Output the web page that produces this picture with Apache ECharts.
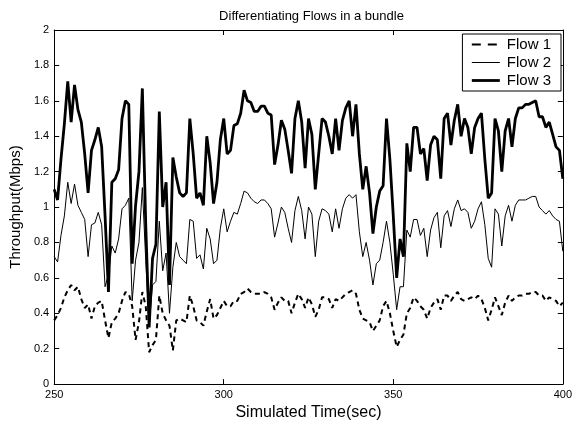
<!DOCTYPE html>
<html><head><meta charset="utf-8">
<script src="https://cdn.jsdelivr.net/npm/echarts/dist/echarts.min.js"></script>
<style>html,body{margin:0;padding:0;background:#fff}#c{width:575px;height:426px}</style>
</head><body><div id="c"></div>
<script>
// time starts at 250 s, one sample per second
const startTime = 250;
const flow1 = [0.36,0.39,0.43,0.49,0.53,0.56,0.53,0.55,0.48,0.43,0.45,0.37,0.44,0.46,0.47,0.36,0.26,0.35,0.37,0.40,
0.47,0.52,0.51,0.44,0.25,0.35,0.52,0.44,0.18,0.22,0.25,0.50,0.40,0.36,0.33,0.19,0.36,0.37,0.36,0.35,
0.50,0.44,0.36,0.35,0.33,0.41,0.48,0.37,0.39,0.43,0.47,0.44,0.44,0.47,0.47,0.51,0.52,0.54,0.52,0.51,
0.51,0.51,0.52,0.51,0.49,0.42,0.46,0.49,0.47,0.47,0.40,0.46,0.51,0.48,0.43,0.49,0.45,0.38,0.42,0.49,
0.49,0.48,0.43,0.48,0.47,0.49,0.51,0.52,0.53,0.51,0.42,0.37,0.36,0.35,0.30,0.33,0.36,0.44,0.47,0.40,
0.30,0.21,0.25,0.28,0.40,0.43,0.49,0.47,0.44,0.42,0.37,0.43,0.46,0.48,0.42,0.50,0.50,0.47,0.50,0.52,
0.48,0.47,0.48,0.49,0.48,0.50,0.48,0.43,0.36,0.42,0.49,0.44,0.39,0.46,0.50,0.47,0.49,0.50,0.50,0.51,
0.51,0.52,0.52,0.50,0.50,0.47,0.49,0.48,0.47,0.44,0.46];
const flow2 = [0.72,0.69,0.84,0.95,1.14,1.02,1.13,1.01,0.97,0.93,0.72,0.90,0.91,0.97,0.90,0.55,0.62,0.78,0.74,0.82,
0.99,1.01,1.05,0.47,0.70,0.80,1.11,0.70,0.33,0.56,0.58,0.92,0.64,0.74,0.40,0.66,0.80,0.72,0.70,0.68,
0.93,0.92,0.71,0.73,0.65,0.88,0.82,0.68,0.70,0.88,0.99,0.86,0.92,0.97,0.96,1.02,1.09,1.08,1.05,1.03,
1.02,1.04,1.04,1.02,0.99,0.83,0.91,1.00,0.97,0.88,0.80,0.98,1.06,0.98,0.82,1.00,0.96,0.72,0.92,0.99,
0.98,0.96,0.86,0.99,0.88,0.99,1.05,1.07,1.05,1.07,0.86,0.72,0.80,0.70,0.56,0.68,0.70,0.80,0.92,0.80,
0.62,0.42,0.55,0.55,0.87,0.83,0.93,0.93,0.84,0.88,0.72,0.87,0.94,0.97,0.77,0.95,0.98,0.89,0.99,1.04,
0.98,0.99,0.97,0.88,0.92,0.99,1.03,0.90,0.71,0.66,0.99,0.96,0.78,0.95,1.01,0.92,1.01,1.04,1.04,1.04,
1.05,1.06,1.06,1.00,0.98,0.96,0.98,0.95,0.93,0.92,0.75];
const flow3 = [1.10,1.04,1.27,1.47,1.71,1.48,1.69,1.55,1.48,1.30,1.08,1.32,1.38,1.45,1.34,0.95,0.52,1.14,1.16,1.21,
1.50,1.60,1.58,0.68,1.01,1.20,1.67,0.90,0.32,0.71,0.79,1.54,1.00,1.14,0.56,1.28,1.17,1.08,1.06,1.08,
1.50,1.30,1.05,1.08,1.01,1.40,1.25,1.02,1.14,1.38,1.50,1.30,1.32,1.46,1.47,1.53,1.66,1.60,1.59,1.54,
1.54,1.57,1.57,1.53,1.52,1.24,1.35,1.49,1.44,1.32,1.19,1.50,1.60,1.48,1.22,1.50,1.41,1.10,1.30,1.50,
1.48,1.40,1.30,1.50,1.32,1.49,1.56,1.60,1.40,1.58,1.30,1.10,1.23,1.08,0.85,1.00,1.09,1.12,1.50,1.27,
0.95,0.60,0.82,0.72,1.36,1.20,1.45,1.45,1.30,1.33,1.15,1.35,1.40,1.38,1.16,1.50,1.53,1.35,1.49,1.58,
1.40,1.50,1.45,1.30,1.45,1.50,1.53,1.27,1.05,1.08,1.50,1.43,1.20,1.43,1.50,1.34,1.50,1.56,1.56,1.58,
1.58,1.59,1.60,1.51,1.51,1.45,1.48,1.41,1.34,1.32,1.16];
const seriesNames = ['Flow 1','Flow 2','Flow 3'];
const xRange = [250, 400];
const xStep = 50;
const yRange = [0, 2];
const yStep = 0.2;

function pairs(arr){ return arr.map((v,i)=>[startTime+i, v]); }
const FONT = '"Liberation Sans", Arial, Helvetica, sans-serif';
const chart = echarts.init(document.getElementById('c'), null, {renderer:'canvas'});
const tickCommon = {inside:true, length:5, lineStyle:{color:'#000', width:1}};
const lineCommon = {show:true, onZero:false, lineStyle:{color:'#000', width:1}};
const styles = [
  {color:'#000', width:2, type:[5,4]},
  {color:'#000', width:1, type:'solid'},
  {color:'#000', width:2.8, type:'solid'}
];
const legendStyles = [
  {color:'#000', width:2, type:[9,7]},
  {color:'#000', width:1, type:'solid'},
  {color:'#000', width:2.8, type:'solid'}
];
chart.setOption({
  animation:false,
  backgroundColor:'#fff',
  textStyle:{fontFamily:FONT},
  title:{text:'Differentiating Flows in a bundle', left:306.5, textAlign:'center', top:5,
    textStyle:{fontFamily:FONT, fontSize:13, fontWeight:'normal', color:'#000'}},
  legend:{data:seriesNames.map((n,i)=>({name:n, lineStyle:legendStyles[i]})),
    orient:'vertical', right:14, top:34, itemWidth:28, itemHeight:14, itemGap:3,
    padding:[3,10,3,8], borderColor:'#000', borderWidth:1, backgroundColor:'#fff',
    itemStyle:{opacity:0, borderWidth:0},
    textStyle:{fontFamily:FONT, fontSize:15, color:'#000', padding:[0,0,0,2]}},
  grid:{left:46, right:8, top:30, bottom:33},
  xAxis:[
    {type:'value', min:xRange[0], max:xRange[1], interval:xStep, position:'bottom',
     axisLine:lineCommon, axisTick:tickCommon, splitLine:{show:false},
     axisLabel:{color:'#000', fontSize:11, margin:5, fontFamily:FONT},
     name:'Simulated Time(sec)', nameLocation:'middle', nameGap:13,
     nameTextStyle:{color:'#000', fontSize:16, fontFamily:FONT}},
    {type:'value', min:xRange[0], max:xRange[1], interval:xStep, position:'top',
     axisLine:lineCommon, axisTick:tickCommon, splitLine:{show:false}, axisLabel:{show:false}}
  ],
  yAxis:[
    {type:'value', min:yRange[0], max:yRange[1], interval:yStep, position:'left',
     axisLine:lineCommon, axisTick:tickCommon, splitLine:{show:false},
     axisLabel:{color:'#000', fontSize:11, margin:5, fontFamily:FONT},
     name:'Throughput(Mbps)', nameLocation:'middle', nameGap:31,
     nameTextStyle:{color:'#000', fontSize:15, fontFamily:FONT}},
    {type:'value', min:yRange[0], max:yRange[1], interval:yStep, position:'right',
     axisLine:lineCommon, axisTick:tickCommon, splitLine:{show:false}, axisLabel:{show:false}}
  ],
  series:seriesNames.map((n,i)=>({
    name:n, type:'line', data:pairs([flow1,flow2,flow3][i]), symbol:'none', showSymbol:false,
    lineStyle:styles[i], itemStyle:{color:'#000'}
  }))
});
</script></body></html>
